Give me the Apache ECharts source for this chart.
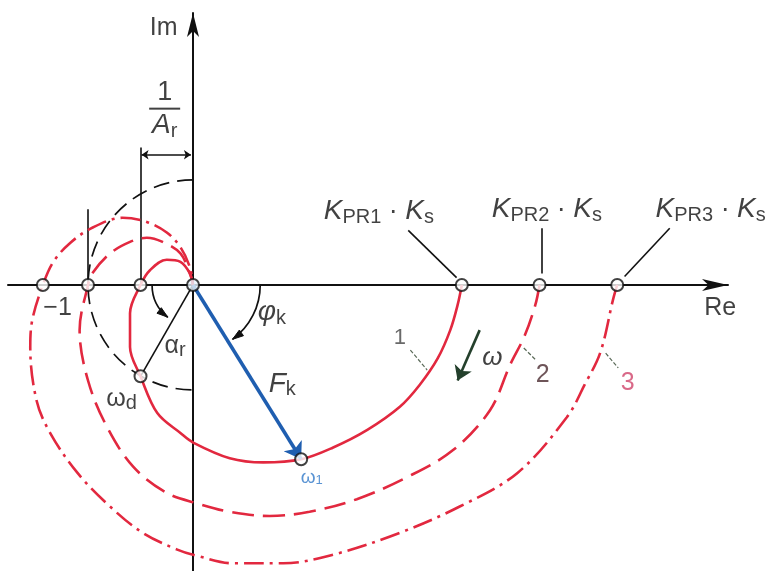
<!DOCTYPE html>
<html>
<head>
<meta charset="utf-8">
<script src="https://cdn.jsdelivr.net/npm/echarts@6/dist/echarts.min.js"></script>
<style>
html,body{margin:0;padding:0;background:#ffffff;}
#chart{width:774px;height:571px;}
</style>
</head>
<body>
<div id="chart"></div>
<script>
// Nyquist locus F_k(jw) for three controller gains (Re, Im)
const curve1 = [[2.56,0],[2.52,-0.19],[2.45,-0.43],[2.33,-0.70],[2.16,-0.95],[1.97,-1.16],[1.66,-1.38],[1.33,-1.55],[1.03,-1.66],[0.67,-1.69],[0.35,-1.65],[0,-1.50],[-0.12,-1.41],[-0.34,-1.22],[-0.50,-0.87],[-0.60,-0.59],[-0.60,-0.27],[-0.50,0],[-0.41,0.14],[-0.25,0.24],[-0.12,0.22],[-0.03,0.11],[0,0]];
const curve2 = [[3.30,0],[3.26,-0.19],[3.16,-0.48],[3.02,-0.76],[2.83,-1.19],[2.48,-1.57],[2.04,-1.83],[1.56,-2.04],[1.11,-2.16],[0.73,-2.20],[0.35,-2.16],[0.04,-2.08],[-0.25,-1.98],[-0.57,-1.73],[-0.82,-1.35],[-1.00,-0.91],[-1.08,-0.43],[-1.00,0],[-0.96,0.11],[-0.79,0.30],[-0.60,0.41],[-0.44,0.45],[-0.29,0.41],[-0.12,0.30],[-0.03,0.11],[0,0]];
const curve3 = [[4.04,0],[4.00,-0.14],[3.88,-0.64],[3.73,-0.95],[3.56,-1.26],[3.09,-1.79],[2.54,-2.11],[1.97,-2.36],[1.33,-2.57],[0.86,-2.65],[0.38,-2.65],[0.04,-2.58],[-0.15,-2.52],[-0.48,-2.36],[-0.79,-2.11],[-1.10,-1.79],[-1.36,-1.41],[-1.49,-1.10],[-1.55,-0.59],[-1.53,-0.33],[-1.43,0],[-1.33,0.22],[-1.17,0.40],[-0.95,0.55],[-0.67,0.64],[-0.44,0.60],[-0.25,0.50],[-0.12,0.36],[-0.03,0.17],[0,0]];

// marked points on the real axis and on the loci
const realAxisPoints = [[-1.43,0],[-1,0],[-0.5,0],[2.56,0],[3.30,0],[4.04,0]];
const originPoint = [0,0];
const omegaD = [-0.50,-0.87];
const omega1 = [1.03,-1.66];

// construction arcs around the origin: radius, start/end angle (deg)
const constructionArcs = [
  {r:1.00, from:90, to:270, dashed:true, arrow:false},
  {r:0.39, from:180, to:232, dashed:false, arrow:true},
  {r:0.64, from:0, to:-54, dashed:false, arrow:true}
];

const FONT = 'Liberation Sans';
const INK = '#111111';
const RED = '#e2283f';

// helper segments
const plainSegments = [
  {coords:[[-1,0],[-1,0.72]]},
  {coords:[[-0.5,0],[-0.5,1.31]]},
  {coords:[[0,0],omegaD]},
  {coords:[[2.05,0.52],[2.51,0.07]]},
  {coords:[[3.32,0.54],[3.32,0.11]]},
  {coords:[[4.54,0.54],[4.11,0.08]]}
];
const curveLeaders = [
  {coords:[[2.07,-0.62],[2.23,-0.81]]},
  {coords:[[3.15,-0.60],[3.27,-0.72]]},
  {coords:[[3.93,-0.65],[4.05,-0.79]]}
];

const labels = [
  {pos:[-0.28,2.45], text:'Im', style:'plain'},
  {pos:[5.02,-0.22], text:'Re', style:'plain'},
  {pos:[-1.29,-0.22], text:'\u22121', style:'plain'},
  {pos:[1.77,0.69], text:'{k|K}{s|PR1}{d| \u00b7 }{k|K}{s|s}', style:'rich'},
  {pos:[3.37,0.71], text:'{k|K}{s|PR2}{d| \u00b7 }{k|K}{s|s}', style:'rich'},
  {pos:[4.93,0.71], text:'{k|K}{s|PR3}{d| \u00b7 }{k|K}{s|s}', style:'rich'},
  {pos:[-0.27,1.66], text:'{n|1}\n{bar|}\n{k|A}{s|r}', style:'rich'},
  {pos:[-0.68,-1.08], text:'{m|\u03c9}{s|d}', style:'rich'},
  {pos:[-0.17,-0.58], text:'{m|\u03b1}{s|r}', style:'rich'},
  {pos:[0.75,-0.27], text:'{k|\u03c6}{s|k}', style:'rich'},
  {pos:[0.85,-0.95], text:'{k|F}{s|k}', style:'rich'},
  {pos:[1.13,-1.82], text:'{b|\u03c9}{bs|1}', style:'rich'},
  {pos:[2.85,-0.69], text:'\u03c9', style:'omega'},
  {pos:[1.97,-0.50], text:'1', style:'num'},
  {pos:[3.33,-0.86], text:'2', style:'num2'},
  {pos:[4.14,-0.93], text:'3', style:'num3'}
];

const richStyles = {
  k:{fontFamily:FONT, fontStyle:'italic', fontSize:28, color:INK, verticalAlign:'bottom', lineHeight:30, padding:[0,0,2,0]},
  m:{fontFamily:FONT, fontSize:25, color:INK, verticalAlign:'bottom', lineHeight:30, padding:[0,0,2,0]},
  s:{fontFamily:FONT, fontSize:20, color:INK, verticalAlign:'bottom', lineHeight:30},
  d:{fontFamily:FONT, fontSize:27, color:INK, verticalAlign:'bottom', lineHeight:30, padding:[0,0,2,0]},
  n:{fontFamily:FONT, fontSize:27, color:INK, lineHeight:26, align:'center'},
  bar:{width:31, height:2, backgroundColor:INK, lineHeight:6, align:'center'},
  b:{fontFamily:FONT, fontSize:19, color:'#2f78c8', verticalAlign:'bottom', lineHeight:22},
  bs:{fontFamily:FONT, fontSize:13, color:'#2f78c8', verticalAlign:'bottom', lineHeight:22}
};

function labelItem(l) {
  const base = {value:l.pos, label:{show:true, position:'inside', formatter:l.text, fontFamily:FONT, color:INK, fontSize:25}};
  if (l.style === 'rich') base.label.rich = richStyles;
  if (l.style === 'omega') { base.label.fontSize = 26; base.label.fontStyle = 'italic'; }
  if (l.style === 'num') { base.label.fontSize = 22; base.label.color = '#444'; }
  if (l.style === 'num2') { base.label.fontSize = 25; base.label.color = '#4a2a30'; }
  if (l.style === 'num3') { base.label.fontSize = 25; base.label.color = '#d0446a'; }
  return base;
}

function locus(name, data, dash) {
  return {
    name: name, type:'line', data:data, smooth:0.35, symbol:'none', z:3,
    lineStyle:{color:RED, width:2.6, type:dash, cap:'butt'}
  };
}

const chart = echarts.init(document.getElementById('chart'), null, {renderer:'canvas'});

chart.setOption({
  animation:false,
  backgroundColor:'#ffffff',
  grid:{left:8, right:46, top:13, bottom:0, containLabel:false},
  xAxis:{
    type:'value', min:-1.762, max:5.095,
    axisLine:{onZero:true, symbol:['none','arrow'], symbolSize:[9,26], lineStyle:{color:INK, width:2}},
    axisTick:{show:false}, axisLabel:{show:false}, splitLine:{show:false}
  },
  yAxis:{
    type:'value', min:-2.724, max:2.590,
    axisLine:{onZero:true, symbol:['none','arrow'], symbolSize:[9,24], lineStyle:{color:INK, width:2}},
    axisTick:{show:false}, axisLabel:{show:false}, splitLine:{show:false}
  },
  series:[
    locus('1', curve1, 'solid'),
    locus('2', curve2, [22,9]),
    locus('3', curve3, [20,6,3,6]),
    {
      type:'custom', coordinateSystem:'cartesian2d', z:2, clip:false,
      data: constructionArcs.map(function(a, i){ return [0, 0, i]; }),
      renderItem: function(params, api) {
        const a = constructionArcs[params.dataIndex];
        const c = api.coord([0,0]);
        const r = api.size([a.r, 0])[0];
        const t0 = a.from * Math.PI / 180, t1 = a.to * Math.PI / 180;
        const ccw = a.to > a.from;
        const children = [{
          type:'arc',
          shape:{cx:c[0], cy:c[1], r:r, startAngle:-t0, endAngle:-t1, clockwise:!ccw},
          style:{fill:null, stroke:INK, lineWidth:1.7, lineDash: a.dashed ? [16,8] : null}
        }];
        if (a.arrow) {
          const px = c[0] + r * Math.cos(t1), py = c[1] - r * Math.sin(t1);
          const dx = ccw ? -Math.sin(t1) : Math.sin(t1);
          const dy = ccw ? -Math.cos(t1) : Math.cos(t1);
          const L = 11, W = 3.5;
          const bx = px - dx * L, by = py - dy * L;
          children.push({
            type:'polygon',
            shape:{points:[[px,py],[bx - dy * W, by + dx * W],[bx + dy * W, by - dx * W]]},
            style:{fill:INK, stroke:INK, lineWidth:1}
          });
        }
        return {type:'group', children:children};
      }
    },
    {
      type:'lines', coordinateSystem:'cartesian2d', z:2, symbol:['none','none'],
      lineStyle:{color:INK, width:1.6, opacity:1},
      data: plainSegments
    },
    {
      type:'lines', coordinateSystem:'cartesian2d', z:2, symbol:['none','none'],
      lineStyle:{color:'#5a6a58', width:1.2, opacity:1, type:[4,2]},
      data: curveLeaders
    },
    {
      type:'lines', coordinateSystem:'cartesian2d', z:2, symbol:['arrow','arrow'], symbolSize:7,
      lineStyle:{color:INK, width:1.6, opacity:1},
      data:[{coords:[[-0.49,1.24],[-0.02,1.24]]}]
    },
    {
      type:'lines', coordinateSystem:'cartesian2d', z:4, symbol:['none','arrow'], symbolSize:[8,16],
      lineStyle:{color:'#1f5eb0', width:3.5, opacity:1},
      data:[{coords:[originPoint, omega1]}]
    },
    {
      type:'lines', coordinateSystem:'cartesian2d', z:4, symbol:['none','arrow'], symbolSize:[8,14],
      lineStyle:{color:'#24402c', width:2.6, opacity:1},
      data:[{coords:[[2.73,-0.43],[2.52,-0.91]]}]
    },
    {
      type:'scatter', z:6, symbol:'circle', symbolSize:12, clip:false,
      itemStyle:{color:'#ffffff', borderColor:INK, borderWidth:2},
      data: realAxisPoints.concat([omegaD, omega1])
    },
    {
      type:'scatter', z:6, symbol:'circle', symbolSize:12, clip:false,
      itemStyle:{color:'#e8f4fb', borderColor:INK, borderWidth:2},
      data:[originPoint]
    },
    {
      type:'scatter', z:8, symbol:'circle', symbolSize:1, clip:false,
      itemStyle:{color:'transparent'},
      data: labels.map(labelItem)
    }
  ]
});
</script>
</body>
</html>
